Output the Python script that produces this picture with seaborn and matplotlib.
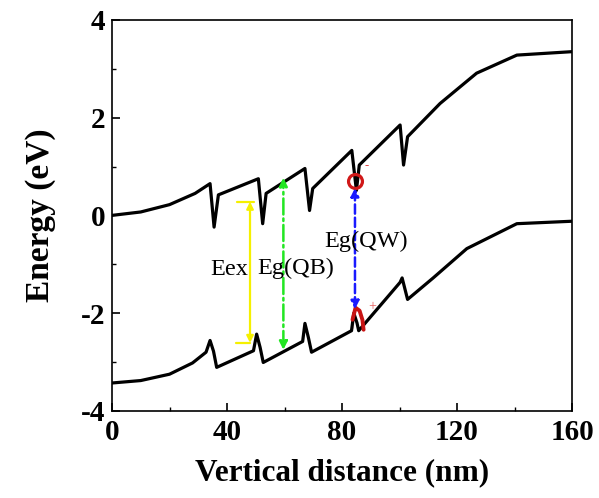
import numpy as np
import pandas as pd
import matplotlib.pyplot as plt
import seaborn as sns

# band edges (x in nm, energy in eV)
cb_x = [0, 10, 20, 28.9, 34.1, 35.5, 37.0, 50.9, 52.4, 53.6, 67.1, 68.7, 69.8,
        83.4, 85.0, 86.0, 100.2, 101.4, 102.8, 114.1, 126.8, 140.8, 159.9]
cb_y = [0.0, 0.07, 0.22, 0.45, 0.65, -0.24, 0.42, 0.75, -0.17, 0.45, 0.96, 0.10, 0.55,
        1.33, 0.51, 1.03, 1.85, 1.03, 1.61, 2.29, 2.91, 3.28, 3.35]

vb_x = [0, 10, 20, 28.0, 32.7, 34.1, 35.3, 36.4, 49.2, 50.3, 51.5, 52.6, 66.3, 67.1, 68.3, 69.4,
        83.3, 84.1, 85.2, 85.8, 100.2, 100.9, 102.8, 111.7, 123.4, 140.8, 159.9]
vb_y = [-3.43, -3.38, -3.25, -3.02, -2.80, -2.56, -2.78, -3.11, -2.77, -2.43, -2.70, -3.01, -2.58, -2.21, -2.50, -2.80,
        -2.36, -2.00, -2.20, -2.36, -1.37, -1.28, -1.72, -1.28, -0.68, -0.17, -0.12]

# transition arrows: x position, top, bottom
eex = (48.0, 0.28, -2.61)
eg_qb = (59.6, 0.77, -2.75)
eg_qw = (84.5, 0.56, -1.92)

# hole outline
hole_x = [83.65, 83.65, 84.7, 86.1, 87.1, 87.5]
hole_y = [-2.30, -1.97, -1.89, -1.95, -2.14, -2.34]

sns.set_style("ticks")
plt.rcParams['font.family'] = ['Liberation Serif', 'DejaVu Serif']
plt.rcParams['axes.unicode_minus'] = False
plt.rcParams['text.color'] = 'black'
plt.rcParams['axes.labelcolor'] = 'black'
plt.rcParams['xtick.color'] = 'black'
plt.rcParams['ytick.color'] = 'black'
plt.rcParams['axes.edgecolor'] = 'black'

fig = plt.figure(figsize=(5.99, 4.98), dpi=100)
ax = fig.add_axes([0.187, 0.175, 0.768, 0.785])

sns.lineplot(x=cb_x, y=cb_y, sort=False, color='black', lw=2.3, ax=ax)
sns.lineplot(x=vb_x, y=vb_y, sort=False, color='black', lw=2.3, ax=ax)

# Eex (yellow, with little bars)
ax.annotate('', xy=(eex[0], eex[1]), xytext=(eex[0], eex[2]),
            arrowprops=dict(arrowstyle='<|-|>', color='#f5f000', lw=1.6, mutation_scale=10,
                            shrinkA=0, shrinkB=0))
ax.plot([43.5, 49.5], [eex[1], eex[1]], color='#f5f000', lw=1.6)
ax.plot([43.0, 48.0], [eex[2], eex[2]], color='#f5f000', lw=1.6)

# Eg(QB) green dash-dot
ax.annotate('', xy=(eg_qb[0], eg_qb[1]), xytext=(eg_qb[0], eg_qb[2]),
            arrowprops=dict(arrowstyle='<|-|>', color='#22e622', lw=1.8, ls='-.', mutation_scale=12,
                            shrinkA=0, shrinkB=0))

# Eg(QW) blue dashed
ax.annotate('', xy=(eg_qw[0], eg_qw[1]), xytext=(eg_qw[0], eg_qw[2]),
            arrowprops=dict(arrowstyle='<|-|>', color='#1a1aff', lw=1.8, ls='--', mutation_scale=12,
                            shrinkA=0, shrinkB=0))

# electron and hole
ax.plot([84.4], [0.70], marker='o', ms=10, mfc='none', mec='#d01818', mew=2.3)
sns.lineplot(x=hole_x, y=hole_y, sort=False, color='#c81414', lw=2.8, ax=ax)
ax.text(88.5, 1.0, '-', color='#e04040', fontsize=9, ha='center', va='center')
ax.text(90.6, -1.87, '+', color='#e86060', fontsize=10, ha='center', va='center')

ax.text(40.6, -1.11, 'Eex', fontsize=17.5, ha='center', va='center')
ax.text(63.8, -1.08, 'Eg(QB)', fontsize=17.5, ha='center', va='center')
ax.text(88.4, -0.54, 'Eg(QW)', fontsize=17.5, ha='center', va='center')

ax.set_xlim(0, 160)
ax.set_ylim(-4, 4)
ax.set_xticks([0, 40, 80, 120, 160])
ax.set_xticks([20, 60, 100, 140], minor=True)
ax.set_yticks([-4, -2, 0, 2, 4])
ax.set_yticks([-3, -1, 1, 3], minor=True)
ax.tick_params(which='major', direction='in', length=6, width=1.2, labelsize=21)
ax.tick_params(axis='x', which='major', pad=6)
ax.tick_params(axis='y', which='major', pad=5)
ax.tick_params(which='minor', direction='in', length=3, width=1.0)
for lab in ax.get_xticklabels() + ax.get_yticklabels():
    lab.set_fontweight('bold')
for sp in ax.spines.values():
    sp.set_linewidth(1.2)

ax.set_xlabel('Vertical distance (nm)', fontsize=22.5, fontweight='bold', labelpad=9)
ax.set_ylabel('Energy (eV)', fontsize=24, fontweight='bold', labelpad=18)

fig.savefig('out.png', dpi=100)
